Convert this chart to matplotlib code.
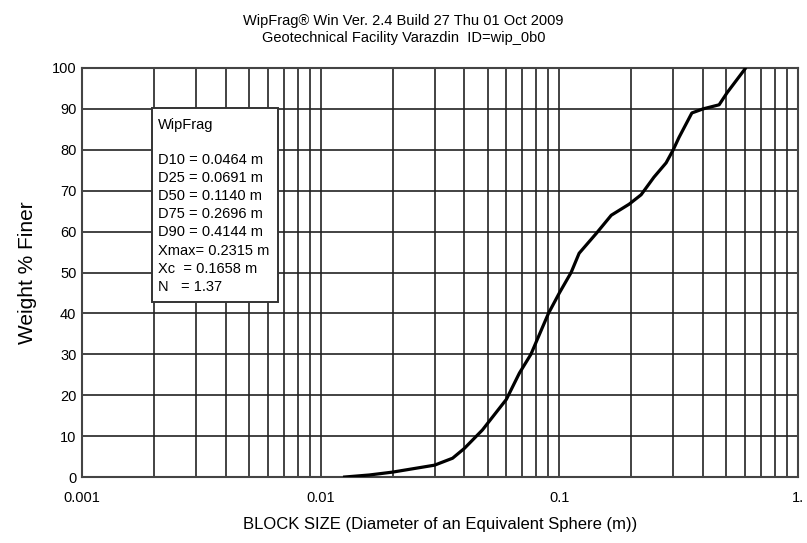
import numpy as np
import matplotlib
matplotlib.use("Agg")
import matplotlib.pyplot as plt
from matplotlib.patches import Rectangle
from matplotlib.ticker import FixedLocator, NullFormatter

plt.rcParams['font.family'] = ['Liberation Sans', 'DejaVu Sans']

# Cumulative size distribution (block size in m, weight % finer)
block_size = [0.0126, 0.016, 0.020, 0.030, 0.0357, 0.040, 0.0476, 0.060,
              0.068, 0.076, 0.090, 0.100, 0.112, 0.121, 0.143, 0.165,
              0.196, 0.220, 0.249, 0.280, 0.300, 0.317, 0.359, 0.400,
              0.467, 0.505, 0.600]
pct_finer = [0.0, 0.5, 1.2, 2.9, 4.6, 7.0, 11.5, 19.0,
             25.4, 30.0, 40.0, 45.0, 50.0, 54.7, 59.6, 64.0,
             66.7, 69.0, 73.3, 76.8, 80.0, 83.0, 89.0, 90.0,
             91.0, 94.0, 99.8]

y_ticks = list(range(0, 101, 10))
x_ticks = [0.001, 0.01, 0.1, 1.0]
x_tick_labels = ['0.001', '0.01', '0.1', '1.']

stats_lines = ['D10 = 0.0464 m', 'D25 = 0.0691 m', 'D50 = 0.1140 m',
               'D75 = 0.2696 m', 'D90 = 0.4144 m', 'Xmax= 0.2315 m',
               'Xc  = 0.1658 m', 'N   = 1.37']

fig = plt.figure(figsize=(8.07, 5.43), dpi=100)
ax = fig.add_axes([0.1016, 0.1215, 0.8873, 0.7533])

ax.plot(block_size, pct_finer, color='black', lw=2.3, zorder=3)

ax.set_xscale('log')
ax.set_xlim(0.001, 1.0)
ax.set_ylim(0, 100)

minor = [m * 10.0 ** e for e in (-3, -2, -1) for m in range(2, 10)]
ax.xaxis.set_major_locator(FixedLocator(x_ticks))
ax.xaxis.set_minor_locator(FixedLocator(minor))
ax.xaxis.set_minor_formatter(NullFormatter())
ax.set_xticklabels(x_tick_labels)
ax.set_yticks(y_ticks)

ax.grid(True, which='both', axis='x', color='#222222', lw=1.2)
ax.grid(True, which='major', axis='y', color='#222222', lw=1.2)
ax.tick_params(which='both', length=0, labelsize=10.5)
ax.tick_params(axis='x', pad=10)
ax.tick_params(axis='y', pad=4)
for s in ax.spines.values():
    s.set_color('#444444')
    s.set_linewidth(1.5)

ax.set_xlabel('BLOCK SIZE (Diameter of an Equivalent Sphere (m))', fontsize=12, labelpad=9)
ax.set_ylabel('Weight % Finer', fontsize=15, labelpad=11)

fig.text(0.5, 0.974, 'WipFrag\u00ae Win Ver. 2.4 Build 27 Thu 01 Oct 2009',
         ha='center', va='top', fontsize=10.5)
fig.text(0.5, 0.942, 'Geotechnical Facility Varazdin  ID=wip_0b0',
         ha='center', va='top', fontsize=10.5)

# statistics box
ax.add_patch(Rectangle((0.0978, 0.428), 0.176, 0.474, transform=ax.transAxes,
                       fc='white', ec='#333333', lw=1.4, zorder=4))
ax.text(0.106, 0.861, 'WipFrag', transform=ax.transAxes, ha='left', va='center',
        fontsize=10.5, zorder=5)
for i, line in enumerate(stats_lines):
    ax.text(0.106, 0.775 - 0.04425 * i, line, transform=ax.transAxes,
            ha='left', va='center', fontsize=10.5, zorder=5)

fig.savefig('out.png', dpi=100)
